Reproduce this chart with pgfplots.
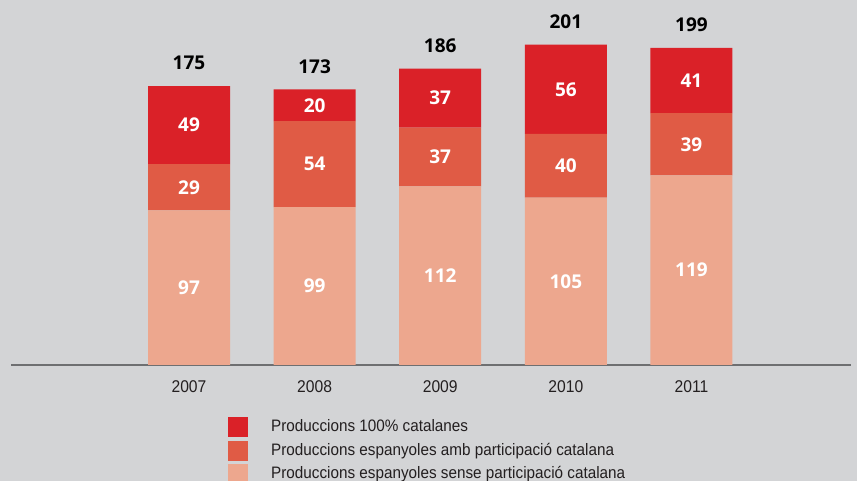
\documentclass[border=0pt]{standalone}
\usepackage{fontspec}
\setmainfont{Liberation Sans}
\newfontfamily\legfont[FakeStretch=0.92]{Liberation Sans}
\newfontfamily\numfont{Open Sans}
\usepackage{pgfplots}
\pgfplotsset{compat=1.18}
\definecolor{bgcol}{HTML}{D3D4D6}
\definecolor{red1}{HTML}{DA2128}
\definecolor{red2}{HTML}{E05B45}
\definecolor{red3}{HTML}{EDA78E}
\definecolor{axcol}{HTML}{6E6F71}
\definecolor{txt}{HTML}{231F20}
\pgfplotsset{
  frame/.style={at={(11pt,116pt)}, anchor=south west,
    scale only axis, width=840pt, height=334.7pt,
    xmin=-1.417, xmax=5.27, ymin=0, ymax=210, clip=false},
  segment/.style={fill=#1, draw=none, point meta=explicit,
    nodes near coords={\pgfmathprintnumber[assume math mode=true]{\pgfplotspointmeta}},
    every node near coord/.style={anchor=center, text=white,
      font=\numfont\bfseries\fontsize{19}{19}\selectfont}}}
\begin{document}
\begin{tikzpicture}
\fill[bgcol] (0pt,0pt) rectangle (857pt,481pt);
\begin{axis}[frame,
  ybar stacked, bar width=82pt,
  axis x line=bottom, axis y line=none,
  axis line style={-, draw=axcol, line width=1.5pt},
  xtick={0,1,2,3,4}, xticklabels={2007,2008,2009,2010,2011},
  major tick length=0pt,
  xticklabel style={anchor=center, yshift=-22pt, text=txt,
    font=\legfont\fontsize{17}{17}\selectfont},
  reverse legend,
  legend cell align=left,
  legend image code/.code={\fill[#1] (0pt,-11pt) rectangle (20pt,9pt);
    \path (43pt,0pt);},
  legend style={at={(0.2583,-0.1554)}, anchor=north west, draw=none,
    fill=none, inner sep=0pt, column sep=0pt, row sep=3.5pt,
    nodes={inner sep=0pt, text=txt},
    font=\legfont\fontsize{16.6}{16.6}\selectfont},
]
\addplot[segment=red3] coordinates {(0,97) [97] (1,99) [99] (2,112) [112] (3,105) [105] (4,119) [119]};
\addplot[segment=red2] coordinates {(0,29) [29] (1,54) [54] (2,37) [37] (3,40) [40] (4,39) [39]};
\addplot[segment=red1] coordinates {(0,49) [49] (1,20) [20] (2,37) [37] (3,56) [56] (4,41) [41]};
\legend{Produccions espanyoles sense participació catalana,
  Produccions espanyoles amb participació catalana,
  Produccions 100\% catalanes}
\end{axis}
% totals above the bars
\begin{axis}[frame, hide axis]
\addplot[draw=none, mark=none, point meta=y,
  nodes near coords={\pgfmathprintnumber[assume math mode=true]{\pgfplotspointmeta}},
  every node near coord/.style={anchor=center, yshift=23pt, text=black,
    font=\numfont\bfseries\fontsize{19}{19}\selectfont}]
  coordinates {(0,175) (1,173) (2,186) (3,201) (4,199)};
\end{axis}
\pgfresetboundingbox
\path[use as bounding box] (0pt,0pt) rectangle (857pt,481pt);
\end{tikzpicture}
\end{document}
